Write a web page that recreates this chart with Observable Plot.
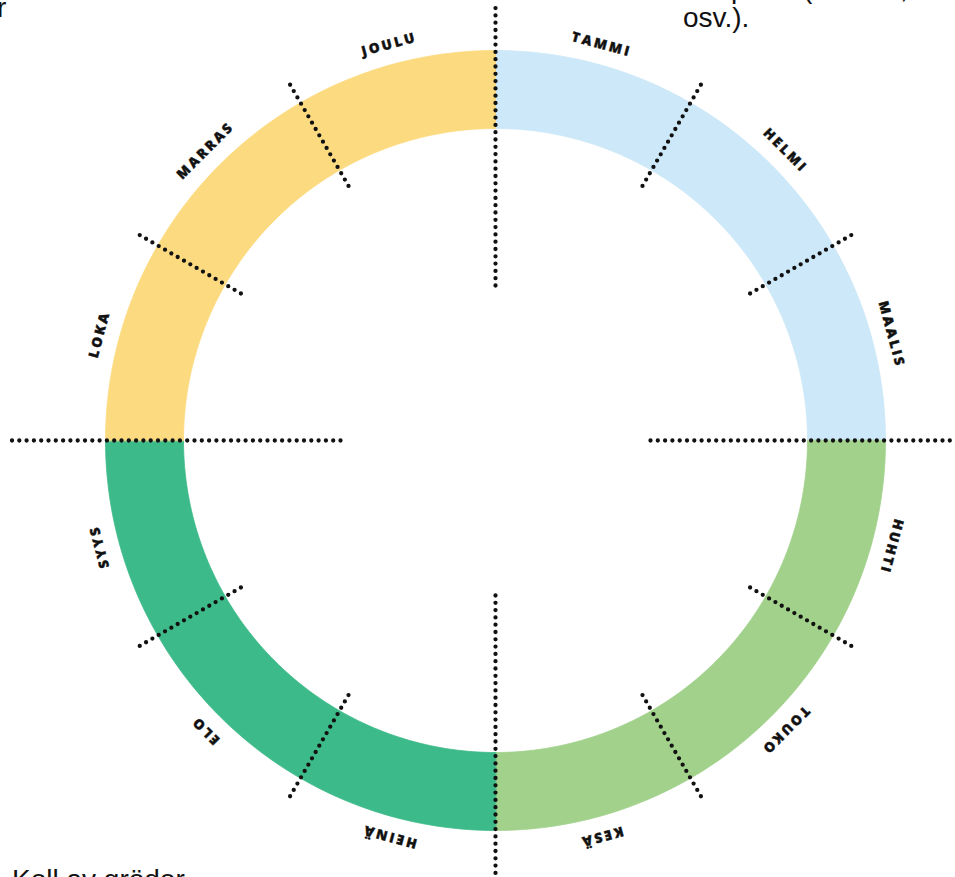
<!DOCTYPE html>
<html>
<head>
<meta charset="utf-8">
<script src="https://cdn.jsdelivr.net/npm/d3@7"></script>
<script src="https://cdn.jsdelivr.net/npm/@observablehq/plot@0.6"></script>
<style>
  html, body { margin: 0; padding: 0; background: #fff; overflow: hidden; }
  #wrap { position: relative; width: 955px; height: 877px; overflow: hidden; }
  #chart { position: absolute; left: 0; top: 0; }
  .txt { position: absolute; font-family: "Liberation Sans", Arial, sans-serif; font-size: 28px; color: #111; white-space: pre; line-height: 1; }
  .mlabel text, text.mlabel { letter-spacing: 2.6px; }
</style>
</head>
<body>
<div id="wrap">
  <div id="chart"></div>
  <div class="txt" style="left:-3px; top:-6px;">r</div>
  <div class="txt" style="left:731px; top:-25px;">p</div>
  <div class="txt" style="left:803px; top:-25px;">(</div>
  <div class="txt" style="left:900px; top:-25px;">,</div>
  <div class="txt" style="left:683px; top:4px;">osv.).</div>
  <div class="txt" style="left:12px; top:866px;">Koll av grödor</div>
</div>
<script>
// Months clockwise from top
const months = ["TAMMI","HELMI","MAALIS","HUHTI","TOUKO","KESÄ","HEINÄ","ELO","SYYS","LOKA","MARRAS","JOULU"];
// Season (quarter) colours: Jan–Mar, Apr–Jun, Jul–Sep, Oct–Dec
const quarterColors = ["#CDE8F8","#A1D18B","#3DBA89","#FCDA80"];
const quarterOfMonth = [0,0,0,1,1,1,2,2,2,3,3,3];

const innerR = 312, outerR = 390, labelR = 410;
const deg = Math.PI / 180;
const pt = (r, a) => ({x: r * Math.sin(a * deg), y: r * Math.cos(a * deg)});

// Ring segments, one per month
const ringPts = [];
months.forEach((m, i) => {
  const a0 = i * 30, a1 = (i + 1) * 30;
  const q = quarterOfMonth[i];
  for (let k = 0; k <= 30; k++) ringPts.push({m, c: quarterColors[q], ...pt(outerR, a0 + (a1 - a0) * k / 30)});
  for (let k = 30; k >= 0; k--) ringPts.push({m, c: quarterColors[q], ...pt(innerR, a0 + (a1 - a0) * k / 30)});
});

// Dotted dividers: long at quarter boundaries, short at month boundaries
const dividers = d3.range(12).map(i => {
  const a = i * 30;
  const long = i % 3 === 0;
  let r0 = long ? 155 : 294, r1 = long ? 485 : 412;
  if (a === 0 || a === 180) r1 = 436;
  const p0 = pt(r0, a), p1 = pt(r1, a);
  return {x1: p0.x, y1: p0.y, x2: p1.x, y2: p1.y};
});

const labels = months.map((m, i) => {
  const a = i * 30 + 15;
  return {text: m, rot: a, ...pt(labelR, a)};
});

const chart = Plot.plot({
  width: 955,
  height: 877,
  margin: 0,
  x: {domain: [-495, 460], axis: null},
  y: {domain: [-437, 440], axis: null},
  color: {type: "identity"},
  marks: [
    Plot.line(ringPts, {x: "x", y: "y", z: "m", fill: "c", stroke: "c", strokeWidth: 0.8, curve: "linear-closed"}),
    Plot.link(dividers, {x1: "x1", y1: "y1", x2: "x2", y2: "y2", stroke: "#111", strokeWidth: 4.3, strokeDasharray: "0 7.3", strokeLinecap: "round"}),
    Plot.text(labels, {x: "x", y: "y", text: "text", rotate: "rot", fontSize: 13.5, fontWeight: 900, fontFamily: "Open Sans, DejaVu Sans, sans-serif", fill: "#111", stroke: "#111", strokeWidth: 0.4, className: "mlabel"})
  ]
});
document.getElementById("chart").appendChild(chart);
</script>
</body>
</html>
